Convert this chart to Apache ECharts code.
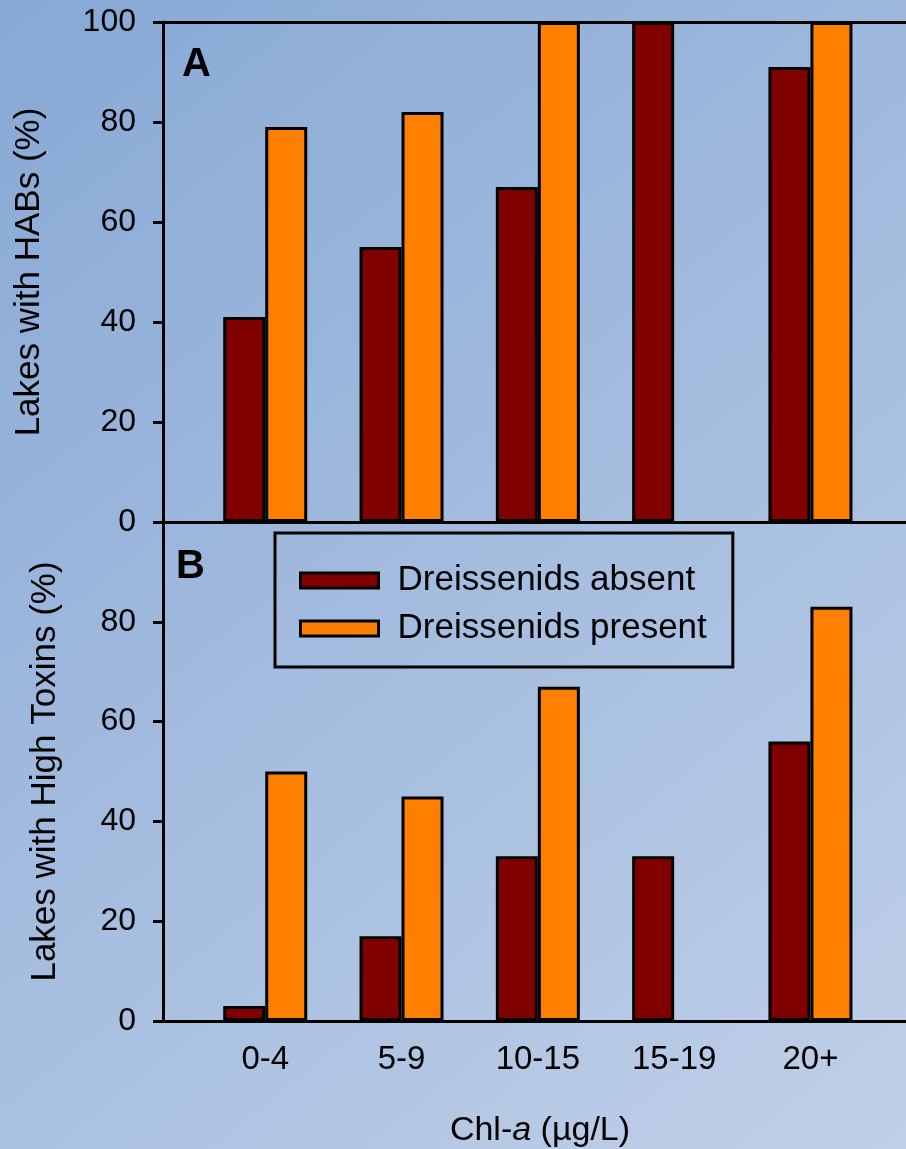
<!DOCTYPE html>
<html>
<head>
<meta charset="utf-8">
<script src="https://cdn.jsdelivr.net/npm/echarts@6/dist/echarts.min.js"></script>
<style>
html,body{margin:0;padding:0;}
#c{width:906px;height:1149px;}
</style>
</head>
<body>
<div id="c"></div>
<script>
const categories = ['0-4', '5-9', '10-15', '15-19', '20+'];
const habsAbsent = [41, 55, 67, 100, 91];
const habsPresent = [79, 82, 100, null, 100];
const toxAbsent = [3, 17, 33, 33, 56];
const toxPresent = [50, 45, 67, null, 83];
const yTicks = [0, 20, 40, 60, 80, 100];
const seriesNames = ['Dreissenids absent', 'Dreissenids present'];
const colors = ['#800000', '#ff8000'];

function pairs(arr) {
  const out = [];
  arr.forEach((v, i) => { if (v !== null) out.push([i, v]); });
  return out;
}

const FONT = 'Liberation Sans, Arial, sans-serif';
const axisLineStyle = { color: '#000', width: 3 };
const catIdx = categories.map((_, i) => i);

const chart = echarts.init(document.getElementById('c'), null, { renderer: 'canvas' });

const xBase = {
  type: 'value', min: -0.75, max: 4.701,
  axisLine: { show: true, onZero: false, lineStyle: axisLineStyle },
  axisTick: { show: false },
  axisLabel: { show: false },
  splitLine: { show: false }
};

const yBase = {
  type: 'value', min: 0, max: 100, interval: 20,
  axisLine: { show: true, onZero: false, lineStyle: axisLineStyle },
  axisTick: { show: true, inside: false, length: 10, lineStyle: { color: '#000', width: 3 } },
  axisLabel: { color: '#000', fontSize: 32, fontFamily: FONT, margin: 27 },
  splitLine: { show: false },
  nameLocation: 'middle',
  nameTextStyle: { color: '#000', fontSize: 35, fontFamily: FONT }
};

const barBase = {
  type: 'bar',
  barWidth: 42,
  barGap: '0%',
  clip: false
};

const option = {
  backgroundColor: {
    type: 'linear', x: 0, y: 0, x2: 1, y2: 1,
    colorStops: [
      { offset: 0, color: '#87a8d5' },
      { offset: 1, color: '#c0d0e8' }
    ]
  },
  animation: false,
  textStyle: { fontFamily: FONT },
  grid: [
    { left: 163, right: 0, top: 22, height: 500 },
    { left: 163, right: 0, top: 522, height: 500 }
  ],
  xAxis: [
    Object.assign({}, xBase, { gridIndex: 0, position: 'bottom' }),
    Object.assign({}, xBase, { gridIndex: 0, position: 'top' }),
    Object.assign({}, xBase, {
      gridIndex: 1, position: 'bottom',
      axisLabel: {
        show: true, customValues: catIdx, color: '#000', fontSize: 33, fontFamily: FONT, margin: 22,
        formatter: v => categories[Math.round(v)]
      },
      name: 'Chl-{i|a} (µg/L)',
      nameLocation: 'middle',
      nameGap: 93,
      nameTextStyle: {
        color: '#000', fontSize: 34, fontFamily: FONT, padding: [0, 0, 0, 11],
        rich: { i: { fontStyle: 'italic', fontSize: 34, color: '#000', fontFamily: FONT } }
      }
    })
  ],
  yAxis: [
    Object.assign({}, yBase, { gridIndex: 0, name: 'Lakes with HABs (%)', nameGap: 116 }),
    Object.assign({}, yBase, {
      gridIndex: 1, name: 'Lakes with High Toxins (%)', nameGap: 100,
      axisLabel: Object.assign({}, yBase.axisLabel, { showMaxLabel: false })
    })
  ],
  legend: {
    show: true,
    data: seriesNames,
    orient: 'vertical',
    left: 275, top: 533,
    padding: [30, 26, 21, 24],
    itemGap: 13,
    itemWidth: 78, itemHeight: 15,
    icon: 'rect',
    borderColor: '#000', borderWidth: 3,
    itemStyle: { borderColor: '#000', borderWidth: 3 },
    textStyle: { color: '#000', fontSize: 35, fontFamily: FONT, padding: [0, 0, 0, 14] }
  },
  graphic: [
    { type: 'text', left: 182, top: 45, style: { text: 'A', fontSize: 40, fontWeight: 'bold', fontFamily: FONT, fill: '#000' } },
    { type: 'text', left: 176, top: 547, style: { text: 'B', fontSize: 40, fontWeight: 'bold', fontFamily: FONT, fill: '#000' } }
  ],
  series: [
    Object.assign({}, barBase, { name: seriesNames[0], xAxisIndex: 0, yAxisIndex: 0, data: pairs(habsAbsent), itemStyle: { color: colors[0], borderColor: '#000', borderWidth: 3 } }),
    Object.assign({}, barBase, { name: seriesNames[1], xAxisIndex: 0, yAxisIndex: 0, data: pairs(habsPresent), itemStyle: { color: colors[1], borderColor: '#000', borderWidth: 3 } }),
    Object.assign({}, barBase, { name: seriesNames[0], xAxisIndex: 2, yAxisIndex: 1, data: pairs(toxAbsent), itemStyle: { color: colors[0], borderColor: '#000', borderWidth: 3 } }),
    Object.assign({}, barBase, { name: seriesNames[1], xAxisIndex: 2, yAxisIndex: 1, data: pairs(toxPresent), itemStyle: { color: colors[1], borderColor: '#000', borderWidth: 3 } })
  ]
};

chart.setOption(option);
</script>
</body>
</html>
